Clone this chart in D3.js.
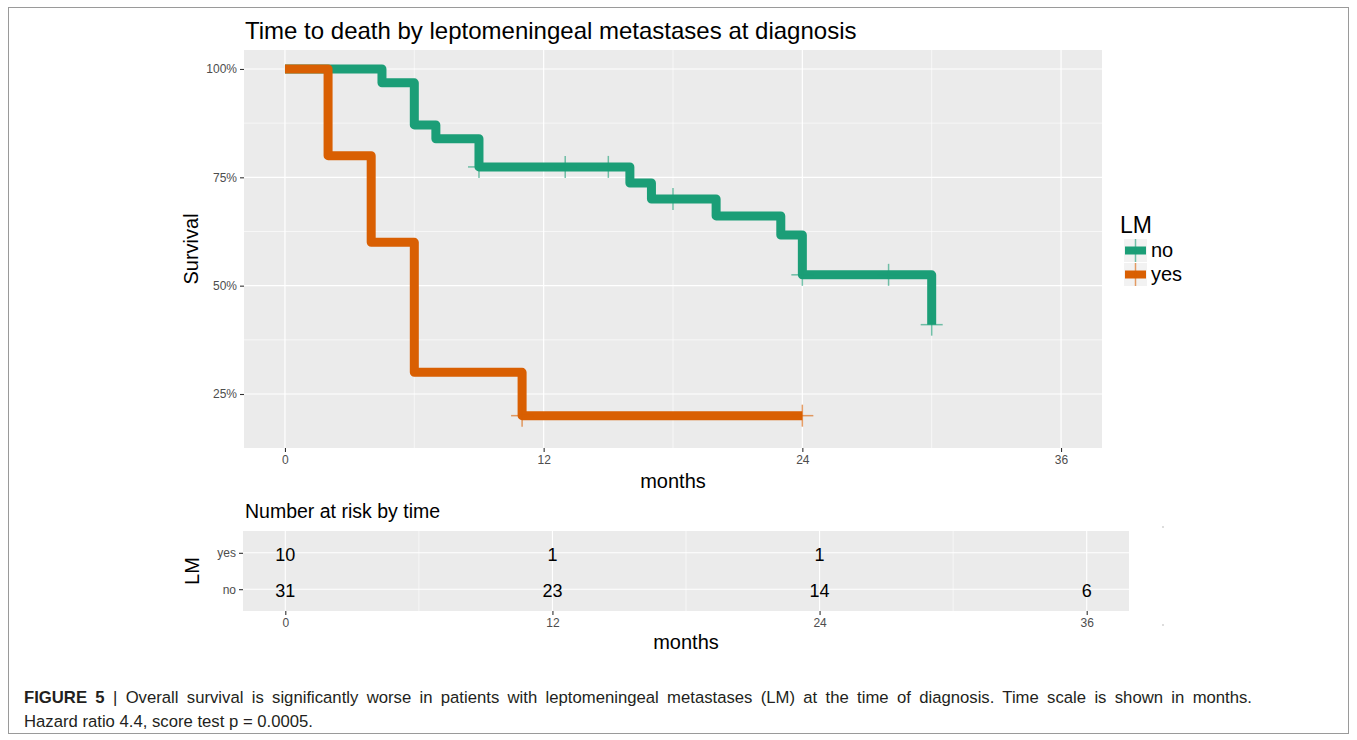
<!DOCTYPE html>
<html><head><meta charset="utf-8">
<script src="https://cdn.jsdelivr.net/npm/d3@7"></script>
<style>body{margin:0;background:#fff} svg{display:block;font-family:"Liberation Sans",Arial,Helvetica,sans-serif}</style>
</head><body><svg id="c" width="1357" height="740"></svg>
<script>
// ---------- data ----------
const groups = ["no", "yes"];
const groupColors = ["#1b9e77", "#d95f02"];
const noTimes = [0, 4.5, 6, 7, 9, 16, 17, 20, 23, 24, 30];
const noSurv  = [1, 0.968, 0.871, 0.839, 0.774, 0.737, 0.700, 0.661, 0.617, 0.525, 0.41];
const noCensor = [9, 13, 15, 18, 24, 28, 30];
const yesTimes = [0, 2, 4, 6, 11, 24];
const yesSurv  = [1, 0.8, 0.6, 0.3, 0.2, 0.2];
const yesCensor = [11, 24];
const xTicks = [0, 12, 24, 36];
const xMinor = [6, 18, 30];
const yTicks = [0.25, 0.5, 0.75, 1];
const yMinor = [0.375, 0.625, 0.875];
const riskTimes = [0, 12, 24, 36];
const riskNo  = [31, 23, 14, 6];
const riskYes = [10, 1, 1, null];
const titleText = "Time to death by leptomeningeal metastases at diagnosis";
const riskTitle = "Number at risk by time";
const captionBold = "FIGURE 5";
const captionLine1 = " | Overall survival is significantly worse in patients with leptomeningeal metastases (LM) at the time of diagnosis. Time scale is shown in months.";
const captionLine2 = "Hazard ratio 4.4, score test p = 0.0005.";

const series = [
  {name: "no", times: noTimes, surv: noSurv, censor: noCensor},
  {name: "yes", times: yesTimes, surv: yesSurv, censor: yesCensor}
];

// ---------- layout ----------
const svg = d3.select("#c");
svg.append("rect").attr("x", 8.5).attr("y", 7.5).attr("width", 1340).attr("height", 726)
  .attr("fill", "#fff").attr("stroke", "#9a9a9a").attr("stroke-width", 1);

const P = {l: 244, r: 1102, t: 50, b: 448};
const x = d3.scaleLinear().domain([-1.9, 37.9]).range([P.l, P.r]);
const y = d3.scaleLinear().domain([0.1254, 1.0438]).range([P.b, P.t]);
const color = d3.scaleOrdinal().domain(groups).range(groupColors);

// title
svg.append("text").attr("x", 245).attr("y", 39).attr("font-size", 24).attr("fill", "#000").text(titleText);

// panel
svg.append("rect").attr("x", P.l).attr("y", P.t).attr("width", P.r - P.l).attr("height", P.b - P.t).attr("fill", "#ebebeb");
const g = svg.append("g");
g.selectAll(".ymin").data(yMinor).join("line").attr("x1", P.l).attr("x2", P.r)
  .attr("y1", d => y(d)).attr("y2", d => y(d)).attr("stroke", "#fff").attr("stroke-width", 0.6);
g.selectAll(".xmin").data(xMinor).join("line").attr("y1", P.t).attr("y2", P.b)
  .attr("x1", d => x(d)).attr("x2", d => x(d)).attr("stroke", "#fff").attr("stroke-width", 0.6);
g.selectAll(".ymaj").data(yTicks).join("line").attr("x1", P.l).attr("x2", P.r)
  .attr("y1", d => y(d)).attr("y2", d => y(d)).attr("stroke", "#fff").attr("stroke-width", 1.2);
g.selectAll(".xmaj").data(xTicks).join("line").attr("y1", P.t).attr("y2", P.b)
  .attr("x1", d => x(d)).attr("x2", d => x(d)).attr("stroke", "#fff").attr("stroke-width", 1.2);

// axes
const yAxis = svg.append("g").attr("transform", `translate(${P.l},0)`)
  .call(d3.axisLeft(y).tickValues(yTicks).tickFormat(d3.format(".0%")).tickSize(4).tickPadding(3));
const xAxis = svg.append("g").attr("transform", `translate(0,${P.b})`)
  .call(d3.axisBottom(x).tickValues(xTicks).tickSize(4).tickPadding(3));
[yAxis, xAxis].forEach(a => {
  a.select(".domain").remove();
  a.selectAll(".tick line").attr("stroke", "#333").attr("stroke-width", 1.1);
  a.selectAll(".tick text").attr("fill", "#4d4d4d").attr("font-size", 12).attr("font-family", "Liberation Sans, Arial, sans-serif");
});

svg.append("text").attr("transform", "translate(198,249) rotate(-90)").attr("text-anchor", "middle")
  .attr("font-size", 20).attr("fill", "#000").text("Survival");
svg.append("text").attr("x", (P.l + P.r) / 2).attr("y", 488).attr("text-anchor", "middle")
  .attr("font-size", 20).attr("fill", "#000").text("months");

// curves
const line = d3.line().x(d => x(d[0])).y(d => y(d[1])).curve(d3.curveStepAfter);
const stepVal = (s, t) => { let v = s.surv[0]; s.times.forEach((tt, i) => { if (tt <= t) v = s.surv[i]; }); return v; };
series.forEach(s => {
  const pts = s.times.map((t, i) => [t, s.surv[i]]);
  svg.append("path").attr("d", line(pts)).attr("fill", "none").attr("stroke", color(s.name))
    .attr("stroke-width", 9).attr("stroke-linejoin", "round").attr("stroke-linecap", "butt");
});
series.forEach(s => {
  const cg = svg.append("g").attr("stroke", color(s.name)).attr("stroke-opacity", 0.6).attr("stroke-width", 1.5);
  s.censor.forEach(t => {
    const cx = x(t), cy = y(stepVal(s, t));
    cg.append("line").attr("x1", cx - 11).attr("x2", cx + 11).attr("y1", cy).attr("y2", cy);
    cg.append("line").attr("x1", cx).attr("x2", cx).attr("y1", cy - 11).attr("y2", cy + 11);
  });
});

// legend
svg.append("text").attr("x", 1120).attr("y", 233).attr("font-size", 23).attr("fill", "#000").text("LM");
groups.forEach((gname, i) => {
  const ky = 239 + i * 24;
  const lg = svg.append("g");
  lg.append("rect").attr("x", 1124).attr("y", ky).attr("width", 23).attr("height", 23).attr("fill", "#f2f2f2");
  lg.append("line").attr("x1", 1125).attr("x2", 1146).attr("y1", ky + 11.5).attr("y2", ky + 11.5)
    .attr("stroke", color(gname)).attr("stroke-width", 8);
  lg.append("line").attr("x1", 1135.5).attr("x2", 1135.5).attr("y1", ky).attr("y2", ky + 23)
    .attr("stroke", color(gname)).attr("stroke-opacity", 0.6).attr("stroke-width", 1.5);
  lg.append("text").attr("x", 1151).attr("y", ky + 18).attr("font-size", 20).attr("fill", "#000").text(gname);
});

// ---------- risk table ----------
const R = {l: 243, r: 1129, t: 531, b: 611};
const xr = d3.scaleLinear().domain([-1.9, 37.9]).range([R.l, R.r]);
const yr = d3.scalePoint().domain(["no", "yes"]).range([R.b, R.t]).padding(0.6 * 2 / 2.2 * 1.1);
svg.append("text").attr("x", 245).attr("y", 518).attr("font-size", 19.5).attr("fill", "#000").text(riskTitle);
svg.append("rect").attr("x", R.l).attr("y", R.t).attr("width", R.r - R.l).attr("height", R.b - R.t).attr("fill", "#ebebeb");
const rg = svg.append("g");
rg.selectAll(".rxmin").data(xMinor).join("line").attr("y1", R.t).attr("y2", R.b)
  .attr("x1", d => xr(d)).attr("x2", d => xr(d)).attr("stroke", "#fff").attr("stroke-width", 0.6);
rg.selectAll(".rxmaj").data(xTicks).join("line").attr("y1", R.t).attr("y2", R.b)
  .attr("x1", d => xr(d)).attr("x2", d => xr(d)).attr("stroke", "#fff").attr("stroke-width", 1.1);
rg.selectAll(".rymaj").data(groups).join("line").attr("x1", R.l).attr("x2", R.r)
  .attr("y1", d => yr(d)).attr("y2", d => yr(d)).attr("stroke", "#fff").attr("stroke-width", 1.1);

const ryAxis = svg.append("g").attr("transform", `translate(${R.l},0)`)
  .call(d3.axisLeft(yr).tickSize(4).tickPadding(3));
const rxAxis = svg.append("g").attr("transform", `translate(0,${R.b})`)
  .call(d3.axisBottom(xr).tickValues(xTicks).tickSize(4).tickPadding(3));
[ryAxis, rxAxis].forEach(a => {
  a.select(".domain").remove();
  a.selectAll(".tick line").attr("stroke", "#333").attr("stroke-width", 1.1);
  a.selectAll(".tick text").attr("fill", "#4d4d4d").attr("font-size", 12).attr("font-family", "Liberation Sans, Arial, sans-serif");
});

const riskRows = [{name: "yes", vals: riskYes}, {name: "no", vals: riskNo}];
riskRows.forEach(row => {
  row.vals.forEach((v, i) => {
    if (v === null) return;
    svg.append("text").attr("x", xr(riskTimes[i])).attr("y", yr(row.name) + 8)
      .attr("text-anchor", "middle").attr("font-size", 18).attr("fill", "#000").text(v);
  });
});
svg.append("text").attr("transform", "translate(199,571) rotate(-90)").attr("text-anchor", "middle")
  .attr("font-size", 20).attr("fill", "#000").text("LM");
svg.append("text").attr("x", (R.l + R.r) / 2).attr("y", 649).attr("text-anchor", "middle")
  .attr("font-size", 20).attr("fill", "#000").text("months");
svg.append("rect").attr("x", 1162.5).attr("y", 526.5).attr("width", 1).attr("height", 1).attr("fill", "#777");
svg.append("rect").attr("x", 1162.5).attr("y", 624.5).attr("width", 1).attr("height", 1).attr("fill", "#777");

// ---------- caption (first line justified to full width) ----------
const cap = svg.append("text").attr("x", 24).attr("y", 703).attr("font-size", 16.7).attr("fill", "#231f20");
cap.append("tspan").attr("font-weight", "bold").text(captionBold);
cap.append("tspan").text(captionLine1);
const natural = cap.node().getComputedTextLength();
const nSpaces = (captionBold + captionLine1).split(" ").length - 1;
const target = 1252 - 24;
if (natural < target) cap.attr("word-spacing", (target - natural) / nSpaces);
svg.append("text").attr("x", 24).attr("y", 727).attr("font-size", 16.7).attr("fill", "#231f20").text(captionLine2);
</script></body></html>
